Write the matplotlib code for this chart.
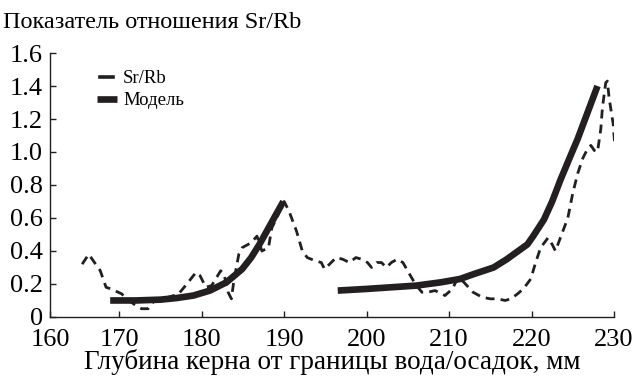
import matplotlib
matplotlib.use("Agg")
import matplotlib.pyplot as plt
import numpy as np

plt.rcParams['font.family'] = 'serif'
plt.rcParams['font.serif'] = ['Liberation Serif', 'DejaVu Serif']

# Sr/Rb measured (dashed)
srrb_x = [165.5, 166.3, 167.7, 168.4, 169.0, 170.3, 170.9, 172.0, 172.7, 173.5,
          174.1, 175.1, 176.0, 177.2, 178.2, 179.3, 179.8, 180.5, 181.2, 182.3,
          182.7, 183.2, 183.6, 183.9, 184.5, 184.9, 186.0, 186.7, 187.3, 188.1,
          188.5, 189.1, 189.7, 190.0, 190.6, 191.5, 192.2, 192.8, 193.8, 194.5,
          194.9, 195.7, 196.3, 197.1, 197.9, 198.7, 199.4, 200.1, 200.6, 201.2,
          201.8, 202.4, 203.0, 203.7, 204.4, 205.2, 205.9, 206.7, 207.4, 208.3,
          209.5, 210.4, 211.1, 211.8, 212.9, 214.0, 215.0, 215.9, 216.8, 217.5,
          218.3, 219.0, 219.9, 220.5, 221.1, 222.0, 222.5, 222.9, 223.5, 224.4,
          225.0, 225.6, 226.2, 226.8, 227.2, 227.6, 228.0, 228.4, 228.6, 229.0,
          229.2, 229.4, 229.9, 230.1]
srrb_y = [0.32, 0.38, 0.28, 0.18, 0.17, 0.14, 0.11, 0.07, 0.05, 0.05,
          0.09, 0.11, 0.12, 0.14, 0.20, 0.27, 0.25, 0.18, 0.19, 0.28,
          0.26, 0.15, 0.11, 0.22, 0.38, 0.42, 0.45, 0.49, 0.40, 0.42,
          0.54, 0.60, 0.67, 0.70, 0.64, 0.52, 0.40, 0.36, 0.34, 0.33,
          0.29, 0.33, 0.36, 0.35, 0.33, 0.36, 0.35, 0.33, 0.30, 0.33,
          0.33, 0.30, 0.33, 0.35, 0.33, 0.26, 0.20, 0.15, 0.15, 0.16,
          0.13, 0.17, 0.24, 0.21, 0.15, 0.12, 0.11, 0.11, 0.10, 0.11,
          0.14, 0.17, 0.23, 0.33, 0.42, 0.48, 0.44, 0.40, 0.48, 0.60,
          0.75, 0.87, 0.96, 1.02, 1.04, 1.01, 1.00, 1.14, 1.27, 1.42,
          1.43, 1.33, 1.17, 1.04]

# model (two pieces)
model1_x = [168.9, 172.0, 175.0, 177.0, 179.0, 181.0, 183.0, 184.9, 186.0, 187.0, 188.0, 189.0, 189.9]
model1_y = [0.10, 0.10, 0.105, 0.115, 0.13, 0.16, 0.21, 0.29, 0.36, 0.44, 0.53, 0.62, 0.70]
model2_x = [196.5, 200.0, 203.0, 206.0, 209.0, 211.3, 213.0, 215.4, 217.0, 219.5, 220.2,
            221.5, 222.5, 223.5, 224.5, 225.6, 226.8, 228.0]
model2_y = [0.16, 0.17, 0.18, 0.19, 0.21, 0.23, 0.26, 0.30, 0.35, 0.44, 0.49,
            0.59, 0.70, 0.83, 0.95, 1.08, 1.24, 1.40]

yticks = [0, 0.2, 0.4, 0.6, 0.8, 1.0, 1.2, 1.4, 1.6]
ytick_labels = ['0', '0.2', '0.4', '0.6', '0.8', '1.0', '1.2', '1.4', '1.6']
# the original axis starts a little right of 160 but is labelled 160 at the spine
x_left = 161.6
xticks = [x_left, 170, 180, 190, 200, 210, 220, 230]
xtick_labels = ['160', '170', '180', '190', '200', '210', '220', '230']

fig = plt.figure(figsize=(6.36, 3.76), dpi=100)
ax = fig.add_axes([0.0786, 0.157, 0.8868, 0.702])

ax.plot(srrb_x, srrb_y, color='#231f20', lw=2.0, dashes=(3.2, 2.2), label='Sr/Rb')
ax.plot(model1_x, model1_y, color='#231f20', lw=4.8, solid_capstyle='butt', label='Модель')
ax.plot(model2_x, model2_y, color='#231f20', lw=4.8, solid_capstyle='butt')

ax.set_xlim(x_left, 230)
ax.set_ylim(0, 1.6)
ax.set_xticks(xticks)
ax.set_xticklabels(xtick_labels)
ax.set_yticks(yticks)
ax.set_yticklabels(ytick_labels)
ax.tick_params(direction='in', length=4.5, width=1, labelsize=19, color='#231f20')
ax.tick_params(axis='x', pad=8.5)
ax.tick_params(axis='y', pad=5)
for s in ['top', 'right']:
    ax.spines[s].set_visible(False)
for s in ['left', 'bottom']:
    ax.spines[s].set_linewidth(1)
    ax.spines[s].set_color('#231f20')

ax.set_xlabel('Глубина керна от границы вода/осадок, мм', fontsize=19.5, labelpad=-1)
fig.text(0.005, 0.925, 'Показатель отношения Sr/Rb', fontsize=17.5, va='baseline')

leg = ax.legend(loc='upper left', bbox_to_anchor=(0.083, 0.935), frameon=False, fontsize=13.5,
                handlelength=1.1, handletextpad=0.3, labelspacing=0.25,
                borderpad=0, borderaxespad=0)
# the Sr/Rb key in the original is a single short dash
dash_key = leg.get_lines()[0]
xd = np.asarray(dash_key.get_xdata(), dtype=float)
yd = np.asarray(dash_key.get_ydata(), dtype=float)
w = xd[-1] - xd[0]
dash_key.set_data([xd[0] + 0.15 * w, xd[-1] - 0.2 * w], [yd[0], yd[-1]])
dash_key.set_linestyle('-')
dash_key.set_linewidth(2.6)

fig.savefig('out.png', dpi=100)
